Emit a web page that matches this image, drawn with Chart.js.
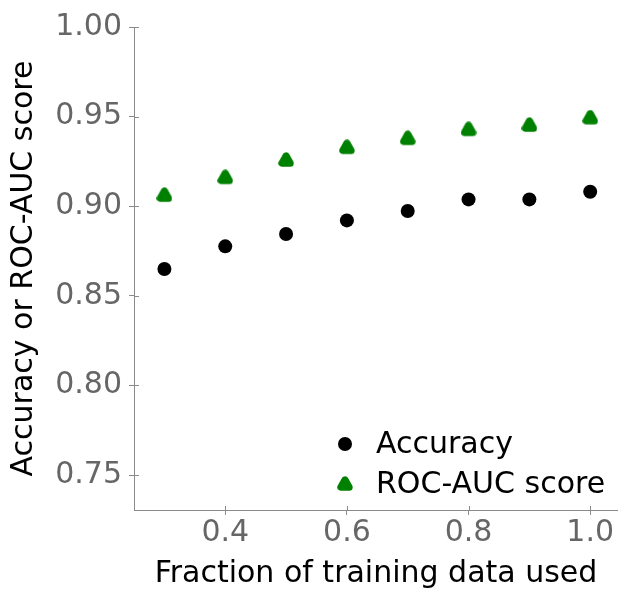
<!DOCTYPE html>
<html>
<head>
<meta charset="utf-8">
<script src="https://cdn.jsdelivr.net/npm/chart.js@4"></script>
<style>
  html, body { margin: 0; padding: 0; background: #fff; overflow: hidden; }
  #wrap { width: 618px; height: 592px; position: relative; overflow: hidden; }
</style>
</head>
<body>
<div id="wrap"><canvas id="c" width="626" height="592"></canvas></div>
<script>
// ---- data ----
const fractions = [0.3, 0.4, 0.5, 0.6, 0.7, 0.8, 0.9, 1.0];
const accuracy  = [0.865, 0.8776, 0.8845, 0.8921, 0.8973, 0.9038, 0.9038, 0.9081];
const rocAuc    = [0.9062, 0.9161, 0.9258, 0.9329, 0.9379, 0.9429, 0.9453, 0.9494];
const xTickValues = [0.4, 0.6, 0.8, 1.0];
const yTickValues = [0.75, 0.80, 0.85, 0.90, 0.95, 1.00];
const seriesNames = ['Accuracy', 'ROC-AUC score'];
const xTitle = 'Fraction of training data used';
const yTitle = 'Accuracy or ROC-AUC score';

const FONT = 'DejaVu Sans';
const FS = 30;
const GREEN = '#008000';
const SPINE = '#8a8a8a';

function makeTriangle(size, color) {
  const cv = document.createElement('canvas');
  cv.width = size; cv.height = size;
  const g = cv.getContext('2d');
  const c = size / 2, r = 3.6;
  g.beginPath();
  g.moveTo(c, c - r - 0.6);
  g.lineTo(c - r - 0.6, c + r * 0.9);
  g.lineTo(c + r + 0.6, c + r * 0.9);
  g.closePath();
  g.lineJoin = 'round';
  g.lineWidth = 7;
  g.fillStyle = color; g.strokeStyle = color;
  g.fill(); g.stroke();
  return cv;
}
const tri = makeTriangle(16, GREEN);

const innerTicks = {
  id: 'innerTicks',
  afterDraw(chart) {
    const ctx = chart.ctx, xs = chart.scales.x, ys = chart.scales.y;
    const a = chart.chartArea;
    ctx.save();
    ctx.strokeStyle = SPINE; ctx.lineWidth = 1;
    ctx.beginPath();
    xTickValues.forEach(v => {
      const px = Math.round(xs.getPixelForValue(v)) + 0.5;
      ctx.moveTo(px, a.bottom); ctx.lineTo(px, a.bottom - 4);
    });
    yTickValues.forEach(v => {
      const py = Math.round(ys.getPixelForValue(v)) + 0.5;
      ctx.moveTo(a.left, py); ctx.lineTo(a.left + 5, py);
    });
    ctx.stroke();
    ctx.restore();
  }
};

const legendPlugin = {
  id: 'customLegend',
  afterDraw(chart) {
    const ctx = chart.ctx;
    const a = chart.chartArea;
    const mx = a.left + 211, tx = a.left + 242;
    const y1 = a.bottom - 66, y2 = a.bottom - 26;
    ctx.save();
    ctx.fillStyle = '#000';
    ctx.beginPath(); ctx.arc(mx, y1, 7, 0, Math.PI * 2); ctx.fill();
    ctx.drawImage(tri, mx - 8, y2 - 8);
    ctx.font = FS + 'px "' + FONT + '"';
    ctx.textBaseline = 'middle';
    ctx.fillStyle = '#000';
    ctx.fillText(seriesNames[0], tx, y1 + 1);
    ctx.fillText(seriesNames[1], tx, y2 + 1);
    ctx.restore();
  }
};

new Chart(document.getElementById('c'), {
  type: 'scatter',
  data: {
    datasets: [
      {
        label: seriesNames[0],
        data: fractions.map((x, i) => ({ x, y: accuracy[i] })),
        pointStyle: 'circle',
        pointRadius: 7, pointHoverRadius: 7,
        backgroundColor: '#000', borderColor: '#000', borderWidth: 0
      },
      {
        label: seriesNames[1],
        data: fractions.map((x, i) => ({ x, y: rocAuc[i] })),
        pointStyle: tri,
        pointRadius: 8, pointHoverRadius: 8,
        backgroundColor: GREEN, borderColor: GREEN, borderWidth: 0
      }
    ]
  },
  options: {
    responsive: false,
    animation: false,
    devicePixelRatio: 1,
    layout: { padding: { top: 27, right: 0, bottom: 0, left: 0 } },
    plugins: { legend: { display: false }, tooltip: { enabled: false } },
    scales: {
      x: {
        type: 'linear',
        min: 0.25, max: 1.0457,
        afterBuildTicks: s => { s.ticks = xTickValues.map(v => ({ value: v })); },
        afterFit: s => { s.height = 82; },
        ticks: {
          callback: v => v.toFixed(1),
          color: '#666', font: { family: FONT, size: FS }, padding: 0, maxRotation: 0
        },
        grid: { display: true, drawOnChartArea: false, drawTicks: true, tickLength: 5, color: SPINE },
        border: { display: true, color: SPINE, width: 1 },
        title: { display: true, text: xTitle, color: '#000', font: { family: FONT, size: FS }, padding: { top: 0, bottom: 0 } }
      },
      y: {
        type: 'linear',
        min: 0.7305, max: 1.0,
        afterBuildTicks: s => { s.ticks = yTickValues.map(v => ({ value: v })); },
        afterFit: s => { s.width = 134; },
        ticks: {
          callback: v => v.toFixed(2),
          color: '#666', font: { family: FONT, size: FS }, padding: 7
        },
        grid: { display: true, drawOnChartArea: false, drawTicks: true, tickLength: 5, color: SPINE },
        border: { display: true, color: SPINE, width: 1 },
        title: { display: true, text: yTitle, color: '#000', font: { family: FONT, size: FS }, padding: { top: 6, bottom: 0 } }
      }
    }
  },
  plugins: [innerTicks, legendPlugin]
});
</script>
</body>
</html>
